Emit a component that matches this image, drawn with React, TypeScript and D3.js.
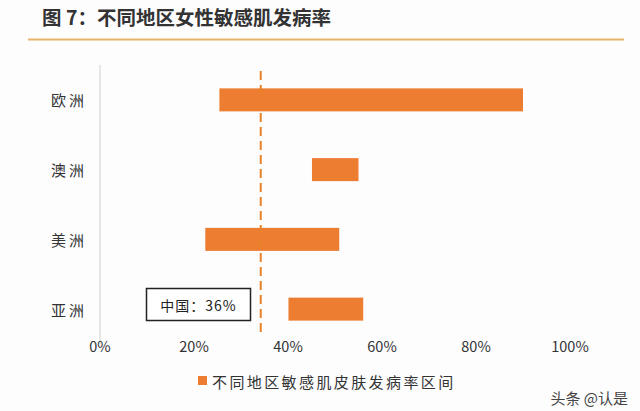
import React from "react";
import * as d3 from "d3";

const categories = ["欧洲", "澳洲", "美洲", "亚洲"];
const lowValues = [25.4, 45.1, 22.4, 40.1];
const highValues = [90, 55, 50.9, 56];
const xTicks = [0, 20, 40, 60, 80, 100];
const chinaLine = 34.2;
const title = "图 7：不同地区女性敏感肌发病率";
const legendLabel = "不同地区敏感肌皮肤发病率区间";
const chinaLabel = "中国：36%";
const watermark = "头条 @认是";

const W = 640;
const H = 411;
const ORANGE = "#ED7D31";
const FONT = "'Noto Sans CJK SC', 'Noto Sans', sans-serif";

export default function App() {
  const x = d3.scaleLinear().domain([0, 100]).range([100, 570]);
  const y = d3.scaleBand().domain(categories).range([65, 344]).paddingInner(0.67).paddingOuter(0.335);
  const rows = categories.map((c, i) => ({ c, lo: lowValues[i], hi: highValues[i] }));
  const yAsia = y("亚洲")! + y.bandwidth() / 2;

  return (
    <svg width={W} height={H} style={{ position: "absolute", left: 0, top: 0, background: "#fdfdfe" }}>
      <rect x={0} y={0} width={W} height={H} fill="#fdfdfe" />
      <text x={42} y={25} fontFamily={FONT} fontWeight="bold" fontSize={19.5} fill="#333">{title}</text>
      <line x1={28} x2={624} y1={39.5} y2={39.5} stroke="#E9B46A" strokeWidth={2} />

      <line x1={x(0)} x2={x(0)} y1={65} y2={344} stroke="#d0d0d0" strokeWidth={1} />

      {rows.map((r) => (
        <g key={r.c}>
          <rect x={x(r.lo)} y={y(r.c)} width={x(r.hi) - x(r.lo)} height={y.bandwidth()} fill={ORANGE} />
          <text x={87} y={y(r.c)! + y.bandwidth() / 2} textAnchor="end" dominantBaseline="central"
            fontFamily={FONT} fontSize={15} fill="#333" letterSpacing={3}>{r.c}</text>
        </g>
      ))}

      <line x1={x(chinaLine)} x2={x(chinaLine)} y1={71} y2={334} stroke="#E8822A" strokeWidth={2} strokeDasharray="9,5" />

      <rect x={146.5} y={288.5} width={104} height={32} fill="#fff" stroke="#222" strokeWidth={1.5} />
      <text x={198.5} y={yAsia - 4} textAnchor="middle" dominantBaseline="central" fontFamily={FONT} fontSize={14} fill="#222" letterSpacing={1}>{chinaLabel}</text>

      {xTicks.map((t) => (
        <text key={t} x={x(t)} y={345} textAnchor="middle" dominantBaseline="central" fontFamily={FONT} fontSize={14.5} fill="#333">{t}%</text>
      ))}

      <rect x={198} y={376} width={9} height={9} fill={ORANGE} />
      <text x={212} y={381} dominantBaseline="central" fontFamily={FONT} fontSize={15} fill="#333" letterSpacing={2.4}>{legendLabel}</text>

      <text x={628} y={397} textAnchor="end" dominantBaseline="central" fontFamily={FONT} fontSize={15} fill="#444">{watermark}</text>
    </svg>
  );
}
